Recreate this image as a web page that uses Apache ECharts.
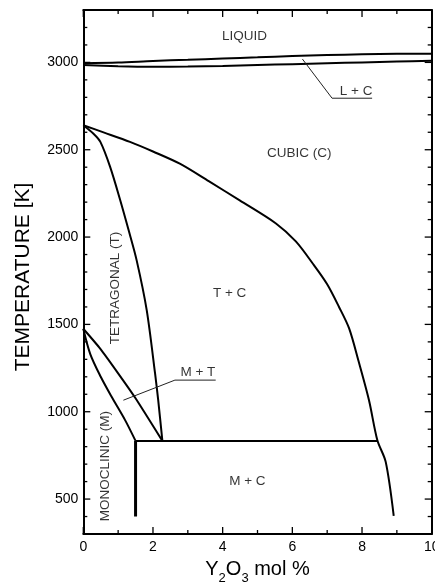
<!DOCTYPE html>
<html>
<head>
<meta charset="utf-8">
<script src="https://cdn.jsdelivr.net/npm/echarts@6/dist/echarts.min.js"></script>
<style>
html,body{margin:0;padding:0;background:#fff;}
#chart{width:435px;height:587px;}
</style>
</head>
<body>
<div id="chart"></div>
<script>
// ---- data (x: Y2O3 mol %, y: temperature K) ----
const liquidusUpper = [[0,2995],[1,2999],[2,3008],[3,3015],[4,3022],[5,3029],[6,3036],[7,3042],[8,3046],[9,3049],[10,3050]];
const liquidusLower = [[0,2985],[1,2978],[2,2975],[3,2976],[4,2980],[5,2985],[6,2990],[7,2995],[8,3000],[9,3005],[10,3010]];
const cubicBoundary = [[0,2640],[0.6,2598],[1.34,2545],[2,2490],[2.77,2420],[3.6,2320],[4.49,2210],[5.53,2078],[6.1,1975],[6.58,1850],[7,1730],[7.34,1600],[7.63,1477],[7.9,1290],[8.2,1066],[8.44,837],[8.68,713],[8.91,404]];
const tetragonalBoundary = [[0,2640],[0.3,2590],[0.49,2545],[0.77,2402],[1.06,2211],[1.3,2040],[1.53,1868],[1.82,1582],[2.06,1219],[2.15,1066],[2.27,833]];
const monoTetraBoundary = [[0,1475],[0.49,1360],[1.0,1220],[1.49,1080],[2.27,833]];
const monoBoundary = [[0,1475],[0.2,1330],[0.5,1200],[0.8,1090],[1.2,952],[1.5,833]];
const eutectoidLine = [[1.5,833],[8.44,833]];
const monoLimit = [[1.5,833],[1.5,400]];
const leaderLC = [[6.29,3019],[7.14,2795],[8.29,2795]];
const leaderMT = [[1.15,1066],[2.63,1181],[3.8,1181]];
const regionLabels = [
  {text:'LIQUID', x:4.63, y:3150, rotate:0},
  {text:'CUBIC (C)', x:6.2, y:2481, rotate:0},
  {text:'T + C', x:4.2, y:1679, rotate:0},
  {text:'M + C', x:4.71, y:603, rotate:0},
  {text:'TETRAGONAL (T)', x:0.91, y:1708, rotate:90},
  {text:'MONOCLINIC (M)', x:0.63, y:689, rotate:90},
  {text:'L + C', x:7.83, y:2835, rotate:0},
  {text:'M + T', x:3.29, y:1227, rotate:0}
];
const xMajorTicks = [0,2,4,6,8,10];
const xMinorTicks = [1,3,5,7,9];
const yMajorTicks = [500,1000,1500,2000,2500,3000];
const yMinorTicks = [400,600,700,800,900,1100,1200,1300,1400,1600,1700,1800,1900,2100,2200,2300,2400,2600,2700,2800,2900,3100,3200];

const X_MIN = 0, X_MAX = 10, Y_MIN = 300, Y_MAX = 3300;
const MAJOR_LEN = 7, MINOR_LEN = 4;
const FONT = "'Liberation Sans', Arial, Helvetica, sans-serif";
const chart = echarts.init(document.getElementById('chart'), null, {renderer:'canvas'});

function lineSeries(data, width, smooth, color){
  return {type:'line', data:data, xAxisIndex:0, yAxisIndex:0, showSymbol:false, symbol:'none',
    smooth:smooth, silent:true, lineStyle:{color:color||'#000', width:width}, z:3};
}
const tickLine = {stroke:'#000', lineWidth:1.3};
function tickSeries(values, isX, len){
  return {type:'custom', coordinateSystem:'cartesian2d', xAxisIndex:0, yAxisIndex:0, silent:true, z:6,
    data: values.map(function(v){ return isX ? [v, Y_MIN] : [X_MIN, v]; }),
    renderItem:function(params, api){
      const children = [];
      if (isX) {
        const v = api.value(0);
        const b = api.coord([v, Y_MIN]), t = api.coord([v, Y_MAX]);
        children.push({type:'line', shape:{x1:b[0], y1:b[1], x2:b[0], y2:b[1]-len}, style:tickLine});
        children.push({type:'line', shape:{x1:t[0], y1:t[1], x2:t[0], y2:t[1]+len}, style:tickLine});
      } else {
        const v = api.value(1);
        const l = api.coord([X_MIN, v]), r = api.coord([X_MAX, v]);
        children.push({type:'line', shape:{x1:l[0], y1:l[1], x2:l[0]+len, y2:l[1]}, style:tickLine});
        children.push({type:'line', shape:{x1:r[0], y1:r[1], x2:r[0]-len, y2:r[1]}, style:tickLine});
      }
      return {type:'group', children:children};
    }
  };
}
function xAx(pos, showLabel){
  return {type:'value', gridIndex:0, position:pos, min:X_MIN, max:X_MAX, interval:2,
    axisLine:{show:true, onZero:false, lineStyle:{color:'#000', width:2}},
    axisTick:{show:false}, minorTick:{show:false},
    splitLine:{show:false}, minorSplitLine:{show:false},
    axisLabel:{show:showLabel, color:'#000', fontSize:14, margin:6, fontFamily:FONT},
    name: showLabel ? '{n|Y}{s|2}{n|O}{s|3}{n| mol %}' : '',
    nameLocation:'middle', nameGap:25,
    nameTextStyle:{color:'#000', fontFamily:FONT,
      rich:{n:{fontSize:20, fontFamily:FONT, color:'#000', verticalAlign:'top', lineHeight:22},
            s:{fontSize:13, fontFamily:FONT, color:'#000', verticalAlign:'top', lineHeight:13, padding:[13,0,0,0]}}}
  };
}
function yAx(pos, showLabel){
  return {type:'value', gridIndex:0, position:pos, min:Y_MIN, max:Y_MAX, interval:100,
    axisLine:{show:true, onZero:false, lineStyle:{color:'#000', width:2}},
    axisTick:{show:false}, minorTick:{show:false},
    splitLine:{show:false},
    axisLabel:{show:showLabel, color:'#000', fontSize:14, margin:5, fontFamily:FONT,
      formatter:function(v){ return yMajorTicks.indexOf(v) >= 0 ? String(v) : ''; }},
    name: showLabel ? 'TEMPERATURE [K]' : '',
    nameLocation:'middle', nameGap:50, nameRotate:90,
    nameTextStyle:{color:'#000', fontSize:21, fontFamily:FONT, padding:[0,10,0,0]}
  };
}

const option = {
  backgroundColor:'#fff',
  animation:false,
  grid:{left:83.3, right:3.3, top:10, bottom:53, containLabel:false, outerBoundsMode:'none'},
  xAxis:[xAx('bottom', true), xAx('top', false)],
  yAxis:[yAx('left', true), yAx('right', false)],
  series:[
    lineSeries(liquidusUpper, 2, 0.3),
    lineSeries(liquidusLower, 2, 0.3),
    lineSeries(cubicBoundary, 2, 0.3),
    lineSeries(tetragonalBoundary, 2, 0.3),
    lineSeries(monoTetraBoundary, 2, 0.2),
    lineSeries(monoBoundary, 2, 0.3),
    lineSeries(eutectoidLine, 2, false),
    lineSeries(monoLimit, 3, false),
    lineSeries(leaderLC, 1, false, '#222'),
    lineSeries(leaderMT, 1, false, '#222'),
    tickSeries(xMajorTicks, true, MAJOR_LEN),
    tickSeries(xMinorTicks, true, MINOR_LEN),
    tickSeries(yMajorTicks, false, MAJOR_LEN),
    tickSeries(yMinorTicks, false, MINOR_LEN),
    {type:'scatter', xAxisIndex:0, yAxisIndex:0, symbolSize:1, silent:true, z:5,
      itemStyle:{color:'rgba(0,0,0,0)'},
      data: regionLabels.map(function(d){ return {value:[d.x, d.y], name:d.text,
        label:{show:true, position:'inside', rotate:d.rotate, formatter:d.text,
          color:'#000', fontSize:13.5, fontFamily:FONT}}; })
    }
  ]
};
chart.setOption(option);
</script>
</body>
</html>
